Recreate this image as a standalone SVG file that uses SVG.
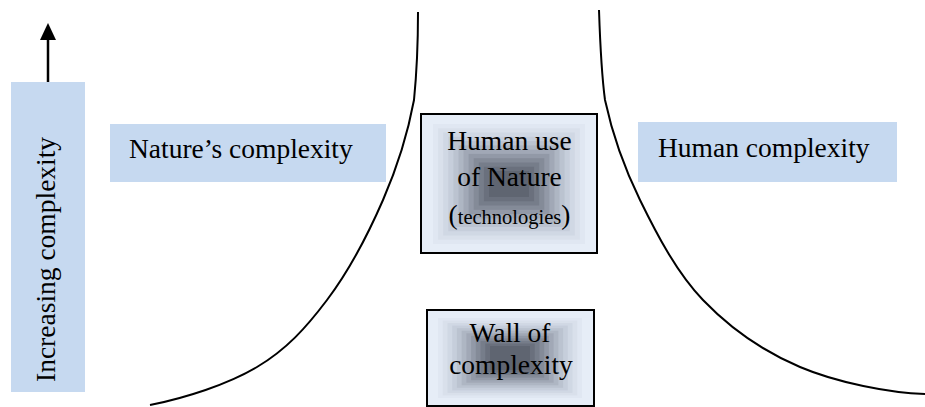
<svg xmlns="http://www.w3.org/2000/svg" width="925" height="407" viewBox="0 0 925 407">
<style>
.label{fill:#c6d9f0}
.t{font-family:"Liberation Serif","Times New Roman",serif;font-size:27.5px;fill:#000}
.curve{fill:none;stroke:#000;stroke-width:2}
.frame{fill:none;stroke:#000;stroke-width:2}
.base{fill:#e6edf7}
.g0{fill:#e0e7f2}.g1{fill:#d9e0eb}.g2{fill:#d0d8e4}.g3{fill:#c6cedb}.g4{fill:#bbc3d0}.g5{fill:#aeb6c3}
.g6{fill:#a1a8b6}.g7{fill:#9299a7}.g8{fill:#848b98}.g9{fill:#767d8a}.g10{fill:#6a707d}.g11{fill:#5f6571}
</style>
<defs>
<marker id="ah" viewBox="0 0 17 16" refX="0" refY="8" markerWidth="17" markerHeight="16" markerUnits="userSpaceOnUse" orient="auto">
<path d="M0,0 L17,8 L0,16 z" fill="#000"/>
</marker>
</defs>

<g id="connectors">
<path class="curve" d="M418,12 C418,45 417,70 414,100 C408.2,131.3 397.5,166.7 383,200 C368.5,233.3 348,272.2 327,300 C306,327.8 286.5,349.5 257,367 C227.5,384.5 185,398 150,405"/>
<path class="curve" d="M599,10 C600,40 601,70 605,100 C611.8,131.7 623.7,166.7 640,200 C656.3,233.3 676.3,272.2 703,300 C729.7,327.8 763,351.3 800,367 C837,382.7 890,393 925,394"/>
<line x1="48" y1="84" x2="48" y2="40" stroke="#000" stroke-width="2.5" marker-end="url(#ah)"/>
</g>

<g id="axis">
<rect class="label" x="11" y="82" width="74" height="310"/>
<text class="t" transform="translate(55,382) rotate(-90)">Increasing complexity</text>
</g>

<g id="nature">
<rect class="label" x="110" y="124" width="276" height="58"/>
<text class="t" x="129" y="158">Nature’s complexity</text>
</g>

<g id="human">
<rect class="label" x="638" y="122" width="259" height="60"/>
<text class="t" x="658" y="157">Human complexity</text>
</g>

<g id="humanuse">
<rect class="base" x="421" y="114" width="176" height="139"/>
<rect class="g0" x="433" y="124" width="152" height="120"/>
<rect class="g1" x="438.1" y="128.3" width="141.8" height="111.4"/>
<rect class="g2" x="443.2" y="132.5" width="131.6" height="103"/>
<rect class="g3" x="448.3" y="136.8" width="121.4" height="94.4"/>
<rect class="g4" x="453.4" y="141.1" width="111.2" height="85.8"/>
<rect class="g5" x="458.5" y="145.4" width="101" height="77.2"/>
<rect class="g6" x="463.5" y="149.6" width="91" height="68.8"/>
<rect class="g7" x="468.6" y="153.9" width="80.8" height="60.2"/>
<rect class="g8" x="473.7" y="158.2" width="70.6" height="51.6"/>
<rect class="g9" x="478.8" y="162.5" width="60.4" height="43"/>
<rect class="g10" x="483.9" y="166.7" width="50.2" height="34.6"/>
<rect class="g11" x="489" y="171" width="40" height="26"/>
<rect class="frame" x="421" y="114" width="176" height="139"/>
<text class="t" x="509.5" y="150" text-anchor="middle">Human use</text>
<text class="t" x="509.5" y="186" text-anchor="middle">of Nature</text>
<text class="t" x="509.5" y="224" text-anchor="middle">(<tspan font-size="20.5">technologies</tspan>)</text>
</g>

<g id="wall">
<rect class="base" x="427" y="310" width="167" height="96"/>
<rect class="g0" x="438" y="318" width="144" height="80"/>
<rect class="g1" x="442.7" y="320.5" width="134.6" height="74.9"/>
<rect class="g2" x="447.5" y="323.1" width="125" height="69.8"/>
<rect class="g3" x="452.2" y="325.6" width="115.6" height="64.8"/>
<rect class="g4" x="456.9" y="328.2" width="106.2" height="59.6"/>
<rect class="g5" x="461.6" y="330.7" width="96.8" height="54.6"/>
<rect class="g6" x="466.4" y="333.3" width="87.2" height="49.4"/>
<rect class="g7" x="471.1" y="335.8" width="77.8" height="44.4"/>
<rect class="g8" x="475.8" y="338.4" width="68.4" height="39.2"/>
<rect class="g9" x="480.5" y="340.9" width="59" height="34.2"/>
<rect class="g10" x="485.3" y="343.5" width="49.4" height="29"/>
<rect class="g11" x="490" y="346" width="40" height="24"/>
<rect class="frame" x="427" y="310" width="167" height="96" stroke-width="1.6"/>
<text class="t" x="510" y="342" text-anchor="middle">Wall of</text>
<text class="t" x="511" y="374" text-anchor="middle">complexity</text>
</g>
</svg>
